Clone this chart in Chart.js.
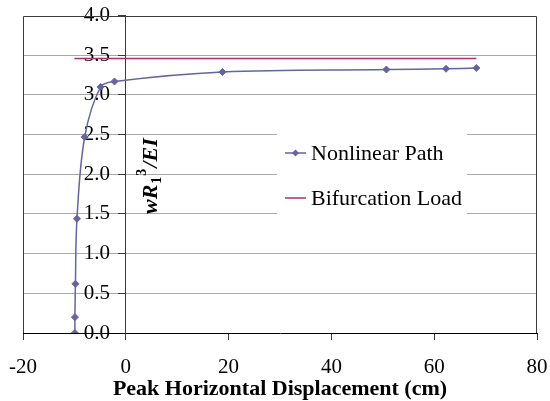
<!DOCTYPE html>
<html>
<head>
<meta charset="utf-8">
<script src="https://cdn.jsdelivr.net/npm/chart.js@4.4.0/dist/chart.umd.min.js"></script>
<style>
  html, body { margin: 0; padding: 0; background: #fff; }
  #wrap { width: 550px; height: 401px; }
</style>
</head>
<body>
<div id="wrap"><canvas id="grafico"></canvas></div>
<script>
// valores
const serieNomes = ['Nonlinear Path', 'Bifurcation Load'];
const nonlinearX = [-9.9, -9.9, -9.8, -9.5, -8.0, -4.9, -2.2, 18.8, 50.7, 62.3, 68.2];
const nonlinearY = [0.0, 0.2, 0.62, 1.44, 2.47, 3.10, 3.17, 3.29, 3.32, 3.33, 3.34];
const bifurcationX = [-10.0, 68.2];
const bifurcationY = [3.46, 3.46];
const xTicks = [-20, 0, 20, 40, 60, 80];
const yTicks = [0.0, 0.5, 1.0, 1.5, 2.0, 2.5, 3.0, 3.5, 4.0];
const xTitulo = 'Peak Horizontal Displacement (cm)';

const fonte = '"Liberation Serif", "Times New Roman", serif';
const corNonlinear = '#63659f';
const corBifurcation = '#a8336a';

function pontos(xs, ys) {
    return xs.map((x, i) => ({ x: x, y: ys[i] }));
}

// moldura do grafico (esquerda, topo, direita)
const moldura = {
    id: 'moldura',
    beforeDatasetsDraw(chart) {
        const { ctx, chartArea: a } = chart;
        ctx.save();
        ctx.strokeStyle = '#3a3a3a';
        ctx.lineWidth = 1;
        ctx.beginPath();
        ctx.moveTo(Math.round(a.left) + 0.5, Math.round(a.bottom));
        ctx.lineTo(Math.round(a.left) + 0.5, Math.round(a.top) + 0.5);
        ctx.lineTo(Math.round(a.right) - 0.5, Math.round(a.top) + 0.5);
        ctx.lineTo(Math.round(a.right) - 0.5, Math.round(a.bottom));
        ctx.stroke();
        ctx.restore();
    }
};

// legenda dentro da area do grafico
const legenda = {
    id: 'legenda',
    afterDatasetsDraw(chart) {
        const ctx = chart.ctx;
        ctx.save();
        ctx.fillStyle = '#fff';
        ctx.fillRect(277, 100, 190, 128);
        ctx.font = '22px ' + fonte;
        ctx.textBaseline = 'middle';
        ctx.textAlign = 'left';
        chart.data.datasets.forEach((ds, i) => {
            const y = 153 + i * 45;
            ctx.strokeStyle = ds.borderColor;
            ctx.lineWidth = 1.5;
            ctx.beginPath();
            ctx.moveTo(285, y);
            ctx.lineTo(306, y);
            ctx.stroke();
            if (ds.pointRadius > 0) {
                ctx.fillStyle = ds.borderColor;
                ctx.beginPath();
                ctx.moveTo(295.5, y - 3.5);
                ctx.lineTo(299, y);
                ctx.lineTo(295.5, y + 3.5);
                ctx.lineTo(292, y);
                ctx.closePath();
                ctx.fill();
            }
            ctx.fillStyle = '#000';
            ctx.fillText(ds.label, 311, y + 1);
        });
        ctx.restore();
    }
};

// titulo do eixo y, rodado, a direita do eixo
const tituloY = {
    id: 'tituloY',
    afterDraw(chart) {
        const ctx = chart.ctx;
        const grande = 'italic bold 22px ' + fonte;
        const pequeno = 'bold 14px ' + fonte;
        ctx.save();
        ctx.translate(157, 214);
        ctx.rotate(-Math.PI / 2);
        ctx.fillStyle = '#000';
        ctx.textAlign = 'left';
        ctx.textBaseline = 'alphabetic';
        let x = 0;
        ctx.font = grande;
        ctx.fillText('wR', x, 0);
        x += ctx.measureText('wR').width + 1;
        ctx.font = pequeno;
        ctx.fillText('1', x, 4);
        x += ctx.measureText('1').width + 1;
        ctx.fillText('3', x, -11);
        x += ctx.measureText('3').width + 1;
        ctx.font = grande;
        ctx.fillText('/EI', x, 0);
        ctx.restore();
    }
};

new Chart(document.getElementById('grafico'), {
    type: 'scatter',
    data: {
        datasets: [{
            label: serieNomes[0],
            data: pontos(nonlinearX, nonlinearY),
            showLine: true,
            borderColor: corNonlinear,
            backgroundColor: corNonlinear,
            borderWidth: 1.5,
            pointStyle: 'rectRot',
            pointRadius: 3.5,
            pointBorderWidth: 1,
            tension: 0.35
        }, {
            label: serieNomes[1],
            data: pontos(bifurcationX, bifurcationY),
            showLine: true,
            borderColor: corBifurcation,
            backgroundColor: corBifurcation,
            borderWidth: 1.5,
            pointRadius: 0,
            tension: 0
        }]
    },
    options: {
        responsive: true,
        maintainAspectRatio: false,
        animation: false,
        layout: { padding: { left: 23, right: 13, top: 15, bottom: 0 } },
        plugins: {
            legend: { display: false },
            tooltip: { enabled: false }
        },
        scales: {
            x: {
                type: 'linear',
                position: 'bottom',
                min: xTicks[0],
                max: xTicks[xTicks.length - 1],
                afterBuildTicks: (s) => { s.ticks = xTicks.map(v => ({ value: v })); },
                afterFit: (s) => {
                    s.height = 68;
                    s.paddingLeft = 0;
                    s.paddingRight = 0;
                },
                ticks: {
                    color: '#000',
                    font: { family: fonte, size: 21 },
                    padding: 15,
                    maxRotation: 0
                },
                grid: {
                    drawOnChartArea: false,
                    tickLength: 7,
                    tickColor: '#3a3a3a'
                },
                border: { color: '#000', width: 1 },
                title: {
                    display: true,
                    text: xTitulo,
                    color: '#000',
                    font: { family: fonte, size: 22, weight: 'bold' },
                    padding: { top: 0, bottom: -2 }
                }
            },
            y: {
                type: 'linear',
                position: { x: 0 },
                min: yTicks[0],
                max: yTicks[yTicks.length - 1],
                afterBuildTicks: (s) => { s.ticks = yTicks.map(v => ({ value: v })); },
                ticks: {
                    color: '#000',
                    font: { family: fonte, size: 21 },
                    callback: (v) => v.toFixed(1) + '   '
                },
                grid: {
                    color: (c) => (c.tick && (c.tick.value === 0 || c.tick.value === 4)) ? 'rgba(0,0,0,0)' : '#a8a8a8',
                    tickLength: 7,
                    tickColor: '#3a3a3a'
                },
                border: { color: '#3a3a3a', width: 1 }
            }
        }
    },
    plugins: [moldura, legenda, tituloY]
});
</script>
</body>
</html>
